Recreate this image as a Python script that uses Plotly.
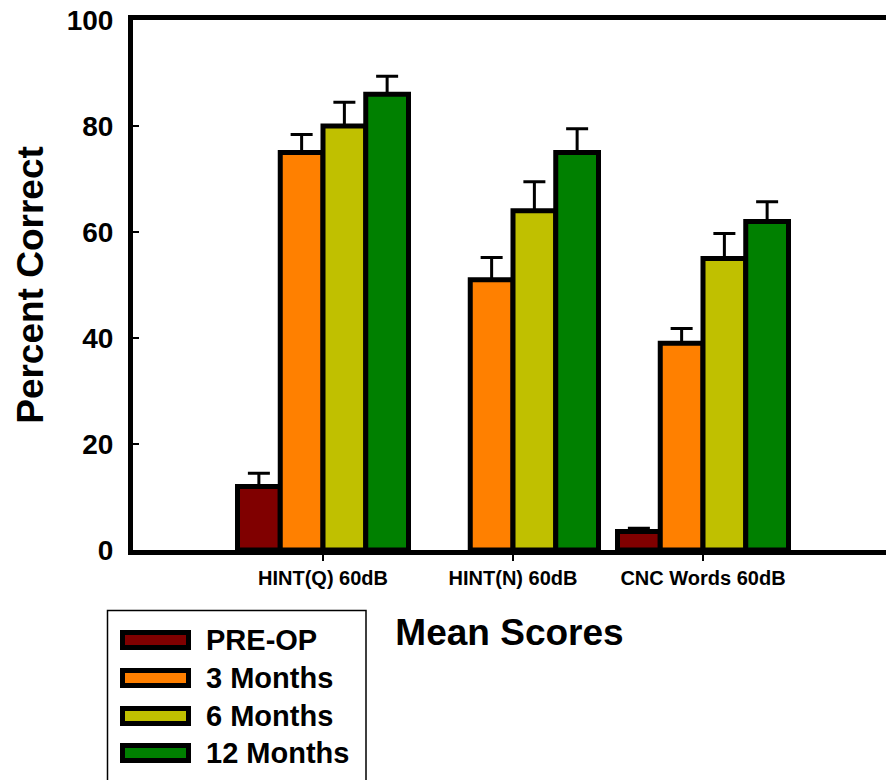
import plotly.graph_objects as go

categories = ["HINT(Q) 60dB", "HINT(N) 60dB", "CNC Words 60dB"]
series_names = ["PRE-OP", "3 Months", "6 Months", "12 Months"]
series_colors = ["#800000", "#FF8000", "#C0C000", "#008000"]
preop = [12, None, 3.5]
m3 = [75, 51, 39]
m6 = [80, 64, 55]
m12 = [86, 75, 62]
preop_err = [2.5, None, 0.6]
m3_err = [3.4, 4.2, 2.8]
m6_err = [4.5, 5.5, 4.7]
m12_err = [3.4, 4.5, 3.7]
y_ticks = [0, 20, 40, 60, 80, 100]

values = [preop, m3, m6, m12]
errors = [preop_err, m3_err, m6_err, m12_err]

FONT = "Liberation Sans, Arial, sans-serif"
W, H = 886, 780
L, R, T, B = 133, 0, 20, 230
PW = W - L - R
PH = H - T - B

def px2x(px):
    return (px - L) / PW

def py2y(py):
    return (H - B - py) / PH

fig = go.Figure()
for name, col, vals, errs in zip(series_names, series_colors, values, errors):
    fig.add_trace(go.Bar(
        name=name, x=categories, y=vals,
        marker=dict(color=col, line=dict(color="black", width=5)),
        error_y=dict(type="data", symmetric=False, array=errs,
                     arrayminus=[0 for _ in errs], color="black",
                     thickness=3, width=11),
        showlegend=False,
    ))

# custom legend (box, swatches, labels)
shapes = [dict(type="rect", xref="paper", yref="paper",
               x0=px2x(107.5), x1=px2x(366), y0=py2y(610.5), y1=py2y(800),
               line=dict(color="black", width=1.5), fillcolor="rgba(0,0,0,0)")]
annotations = []
row_y = [640, 678, 716, 753]
for name, col, cy in zip(series_names, series_colors, row_y):
    shapes.append(dict(type="rect", xref="paper", yref="paper",
                       x0=px2x(122.5), x1=px2x(188.5), y0=py2y(cy + 7.5), y1=py2y(cy - 7.5),
                       line=dict(color="black", width=5), fillcolor=col))
    annotations.append(dict(text=name, xref="paper", yref="paper",
                            x=px2x(204), y=py2y(cy), xanchor="left", yanchor="middle",
                            showarrow=False,
                            font=dict(family=FONT, size=29, color="black", weight="bold")))

fig.update_layout(
    width=W, height=H, autosize=False,
    margin=dict(l=L, r=R, t=T, b=B, pad=0),
    paper_bgcolor="white", plot_bgcolor="white",
    barmode="group", bargap=0.1, bargroupgap=0,
    shapes=shapes, annotations=annotations,
    showlegend=False,
)
fig.update_xaxes(
    type="category", categoryorder="array", categoryarray=categories,
    range=[-1, -1 + PW / 190.0],
    showline=True, linecolor="black", linewidth=5, mirror=True,
    ticks="outside", ticklen=6, tickwidth=1.5, tickcolor="black",
    tickfont=dict(family=FONT, size=20, color="black", weight="bold"),
    showgrid=False, zeroline=False,
    title=dict(text="Mean Scores", standoff=33,
               font=dict(family=FONT, size=37, color="black", weight="bold")),
)
fig.update_yaxes(
    range=[0, 100], tickvals=y_ticks,
    showline=True, linecolor="black", linewidth=5, mirror=False,
    ticks="inside", ticklen=6, tickwidth=1.5, tickcolor="black",
    ticklabelstandoff=9,
    tickfont=dict(family=FONT, size=28, color="black", weight="bold"),
    showgrid=False, zeroline=False,
    title=dict(text="Percent Correct", standoff=13,
               font=dict(family=FONT, size=37, color="black", weight="bold")),
)

fig.write_html("out.html", config={"displayModeBar": False},
               post_script="document.body.style.margin='0';")
